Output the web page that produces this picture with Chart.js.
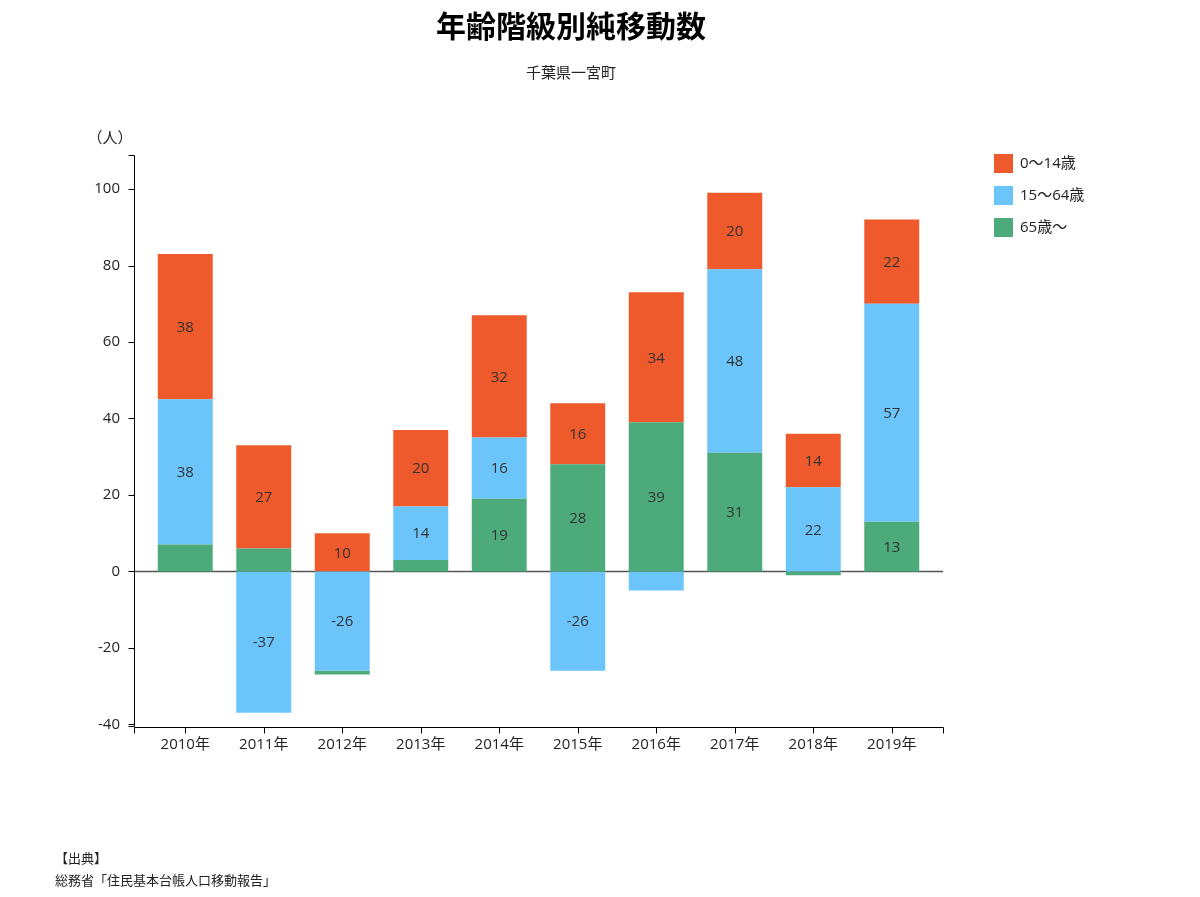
<!DOCTYPE html>
<html lang="ja">
<head>
<meta charset="utf-8">
<title>年齢階級別純移動数</title>
<script src="https://cdn.jsdelivr.net/npm/chart.js@4.4.1/dist/chart.umd.min.js"></script>
<style>
html, body { margin: 0; padding: 0; background: #fff; }
</style>
</head>
<body>
<canvas id="myChart" width="1200" height="897"></canvas>
<script>
let years = ["2010年", "2011年", "2012年", "2013年", "2014年", "2015年", "2016年", "2017年", "2018年", "2019年"]
let age0_14 = [38, 27, 10, 20, 32, 16, 34, 20, 14, 22]
let age15_64 = [38, -37, -26, 14, 16, -26, -5, 48, 22, 57]
let age65 = [7, 6, -1, 3, 19, 28, 39, 31, -1, 13]
let seriesNames = ["0〜14歳", "15〜64歳", "65歳〜"]
let yTicks = [-40, -20, 0, 20, 40, 60, 80, 100]
let yMin = -40.7
let yMax = 108.9

let orange = "#ee5a2b"
let blue = "#6bc4fa"
let green = "#4dab7b"
let font = "'Open Sans', 'Noto Sans CJK JP', sans-serif"
let jpFont = "'Noto Sans CJK JP', sans-serif"

// 65歳〜 の負の値は 15〜64歳 の下に積む
let age65Pos = age65.map(v => v > 0 ? v : null)
let age65Neg = age65.map(v => v < 0 ? v : null)

let drawExtras = {
    id: "drawExtras",
    beforeDatasetsDraw(chart) {
        let c = chart.ctx
        let a = chart.chartArea
        let y0 = Math.round(chart.scales.y.getPixelForValue(0)) + 0.5
        c.save()
        c.strokeStyle = "#555"
        c.lineWidth = 1.5
        c.beginPath()
        c.moveTo(a.left - 12, y0)
        c.lineTo(a.right + 12, y0)
        c.stroke()
        c.restore()
    },
    afterDatasetsDraw(chart) {
        let c = chart.ctx
        c.save()
        c.font = "15px " + font
        c.fillStyle = "#333"
        c.textAlign = "center"
        c.textBaseline = "middle"
        chart.data.datasets.forEach(function (ds, i) {
            let meta = chart.getDatasetMeta(i)
            meta.data.forEach(function (bar, j) {
                let v = ds.data[j]
                if (v == null || Math.abs(v) < 10) return
                c.fillText(String(v), bar.x, (bar.y + bar.base) / 2 + 1)
            })
        })
        c.restore()
    },
    afterDraw(chart) {
        let c = chart.ctx
        let a = chart.chartArea
        let ys = chart.scales.y
        let xs = chart.scales.x
        let ax = Math.round(a.left - 12) + 0.5
        let ay = Math.round(a.bottom) + 0.5
        let right = Math.round(a.right + 12) + 0.5
        c.save()
        c.strokeStyle = "#000"
        c.lineWidth = 1
        // y axis
        c.beginPath()
        c.moveTo(ax - 6, Math.round(a.top) + 0.5)
        c.lineTo(ax, Math.round(a.top) + 0.5)
        c.lineTo(ax, ay - 1)
        c.lineTo(ax - 6, ay - 1)
        yTicks.forEach(function (v) {
            let p = Math.round(ys.getPixelForValue(v)) + 0.5
            c.moveTo(ax - 6, p)
            c.lineTo(ax, p)
        })
        c.stroke()
        // x axis
        c.beginPath()
        c.moveTo(ax, ay + 6)
        c.lineTo(ax, ay)
        c.lineTo(right, ay)
        c.lineTo(right, ay + 6)
        years.forEach(function (yr, i) {
            let p = Math.round(xs.getPixelForValue(i)) + 0.5
            c.moveTo(p, ay)
            c.lineTo(p, ay + 6)
        })
        c.stroke()

        c.fillStyle = "#000"
        c.textBaseline = "middle"
        c.textAlign = "center"
        c.font = "bold 30px " + jpFont
        c.fillText("年齢階級別純移動数", 571, 26)
        c.font = "15px " + jpFont
        c.fillStyle = "#222"
        c.fillText("千葉県一宮町", 571, 72)
        c.fillText("（人）", 110, 137)

        c.textAlign = "left"
        c.font = "13px " + jpFont
        c.fillText("【出典】", 55, 858)
        c.fillText("総務省「住民基本台帳人口移動報告」", 55, 880)

        // legend
        let cols = [orange, blue, green]
        c.font = "15px " + font
        seriesNames.forEach(function (n, i) {
            let top = 154 + i * 32
            c.fillStyle = cols[i]
            c.fillRect(994, top, 19, 19)
            c.fillStyle = "#222"
            c.fillText(n, 1020, top + 10)
        })
        c.restore()
    }
}

let ctx = document.querySelector("#myChart").getContext("2d")
let chart = new Chart(ctx, {
    type: "bar",
    data: {
        labels: years,
        datasets: [
            { label: seriesNames[2], data: age65Pos, backgroundColor: green },
            { label: seriesNames[1], data: age15_64, backgroundColor: blue },
            { label: seriesNames[0], data: age0_14, backgroundColor: orange },
            { label: seriesNames[2] + "(負)", data: age65Neg, backgroundColor: green }
        ]
    },
    options: {
        responsive: false,
        animation: false,
        events: [],
        layout: { padding: { left: 0, right: 269, top: 155, bottom: 140 } },
        datasets: { bar: { categoryPercentage: 1, barPercentage: 0.7, borderWidth: 0 } },
        plugins: {
            legend: { display: false },
            title: { display: false },
            tooltip: { enabled: false }
        },
        scales: {
            x: {
                stacked: true,
                grid: { display: false, drawTicks: false },
                border: { display: false },
                ticks: { color: "#222", padding: 9, font: { size: 15, family: font } },
                afterFit: function (s) { s.height = 30 }
            },
            y: {
                stacked: true,
                min: yMin,
                max: yMax,
                grid: { display: false, drawTicks: false },
                border: { display: false },
                ticks: { color: "#222", padding: 26, font: { size: 15, family: font } },
                afterBuildTicks: function (s) { s.ticks = yTicks.map(v => ({ value: v })) },
                afterFit: function (s) { s.width = 146 }
            }
        }
    },
    plugins: [drawExtras]
})
</script>
</body>
</html>
